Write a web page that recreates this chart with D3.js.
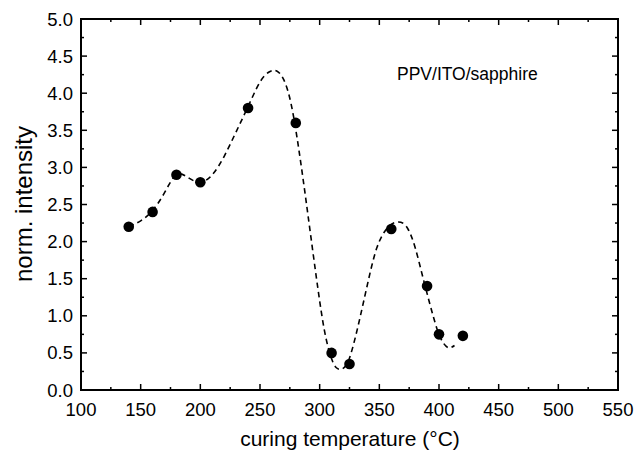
<!DOCTYPE html>
<html><head><meta charset="utf-8">
<script src="https://cdn.jsdelivr.net/npm/d3@7"></script>
<style>body{margin:0;background:#fff}svg{display:block}text{font-family:"Liberation Sans",Arial,sans-serif;fill:#000}</style>
</head><body><svg id="c" width="636" height="455"></svg>
<script>
// measured points
const temps = [140,160,180,200,240,280,310,325,360,390,400,420];
const intensity = [2.2,2.4,2.9,2.8,3.8,3.6,0.5,0.35,2.17,1.4,0.75,0.73];
// dashed guide curve
const curveT = [140,150,160,170,180,190,200,210,220,230,240,250,258,264,270,276,282,288,294,300,305,310,314,318,322,326,332,340,348,356,362,368,374,380,386,392,398,403,408,413];
const curveI = [2.2,2.28,2.42,2.66,2.9,2.86,2.8,2.9,3.15,3.48,3.82,4.15,4.29,4.3,4.18,3.86,3.3,2.62,1.9,1.2,0.72,0.42,0.3,0.28,0.33,0.48,0.85,1.42,1.92,2.17,2.25,2.26,2.17,1.92,1.55,1.18,0.84,0.65,0.57,0.6];
const xTicks = [100,150,200,250,300,350,400,450,500,550];
const yTicks = [0,0.5,1,1.5,2,2.5,3,3.5,4,4.5,5];
const xMinor = d3.range(125,550,50);
const yMinor = d3.range(0.25,5,0.5);

const L=81,R=618,T=19,B=390;
const svg=d3.select("#c");
const x=d3.scaleLinear().domain([100,550]).range([L,R]);
const y=d3.scaleLinear().domain([0,5]).range([B,T]);

// ticks inward on all sides
const g=svg.append("g").attr("stroke","#000").attr("stroke-width",1.5);
xTicks.forEach(v=>{g.append("line").attr("x1",x(v)).attr("x2",x(v)).attr("y1",B).attr("y2",B-6);
  g.append("line").attr("x1",x(v)).attr("x2",x(v)).attr("y1",T).attr("y2",T+6);});
xMinor.forEach(v=>{g.append("line").attr("x1",x(v)).attr("x2",x(v)).attr("y1",B).attr("y2",B-3);
  g.append("line").attr("x1",x(v)).attr("x2",x(v)).attr("y1",T).attr("y2",T+3);});
yTicks.forEach(v=>{g.append("line").attr("y1",y(v)).attr("y2",y(v)).attr("x1",L).attr("x2",L+6);
  g.append("line").attr("y1",y(v)).attr("y2",y(v)).attr("x1",R).attr("x2",R-6);});
yMinor.forEach(v=>{g.append("line").attr("y1",y(v)).attr("y2",y(v)).attr("x1",L).attr("x2",L+3);
  g.append("line").attr("y1",y(v)).attr("y2",y(v)).attr("x1",R).attr("x2",R-3);});
svg.append("rect").attr("x",L).attr("y",T).attr("width",R-L).attr("height",B-T)
  .attr("fill","none").attr("stroke","#000").attr("stroke-width",2);

// tick labels
svg.append("g").selectAll("text").data(xTicks).join("text")
  .attr("x",d=>x(d)).attr("y",416).attr("text-anchor","middle").attr("font-size",18.5).text(d=>d);
svg.append("g").selectAll("text").data(yTicks).join("text")
  .attr("x",73).attr("y",d=>y(d)+6.5).attr("text-anchor","end").attr("font-size",18.5).text(d=>d.toFixed(1));

// titles
svg.append("text").attr("x",350).attr("y",446).attr("text-anchor","middle").attr("font-size",21)
  .text("curing temperature (°C)");
svg.append("text").attr("transform","translate(32,204) rotate(-90)").attr("text-anchor","middle")
  .attr("font-size",24).text("norm. intensity");
svg.append("text").attr("x",397).attr("y",80).attr("font-size",17.5).text("PPV/ITO/sapphire");

// dashed curve
const line=d3.line().x((d,i)=>x(curveT[i])).y(d=>y(d)).curve(d3.curveNatural);
svg.append("path").attr("d",line(curveI)).attr("fill","none").attr("stroke","#000")
  .attr("stroke-width",1.6).attr("stroke-dasharray","5.5,4");

// points
svg.append("g").selectAll("circle").data(intensity).join("circle")
  .attr("cx",(d,i)=>x(temps[i])).attr("cy",d=>y(d)).attr("r",5.3).attr("fill","#000");
</script></body></html>
